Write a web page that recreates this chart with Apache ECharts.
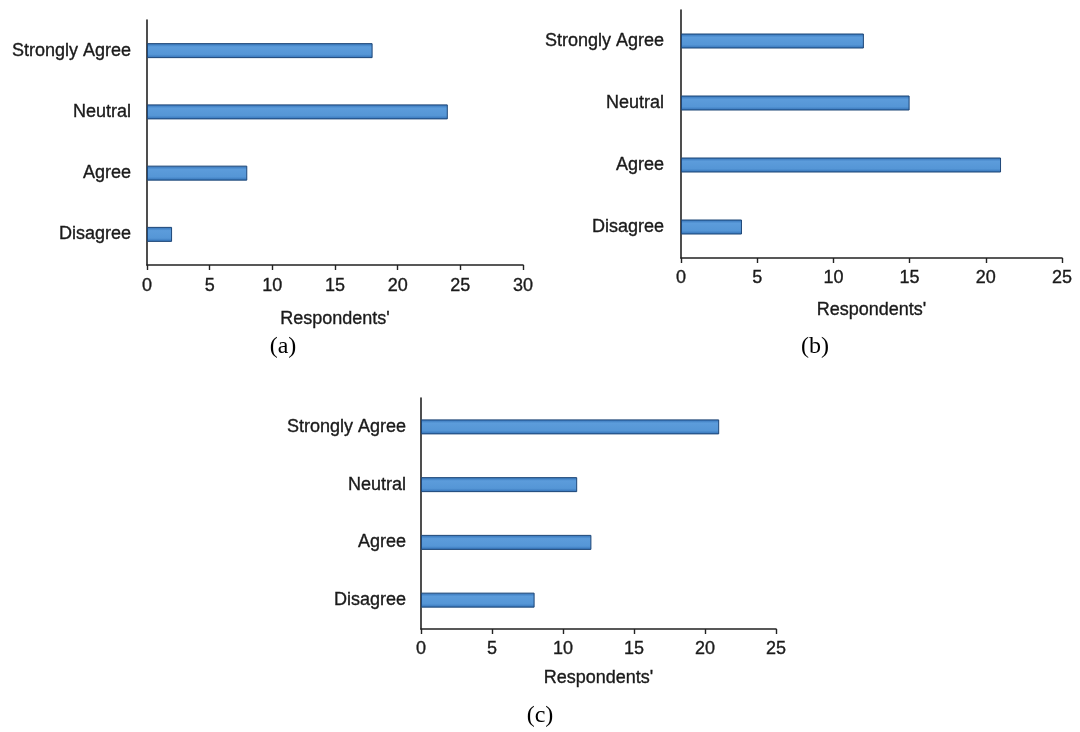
<!DOCTYPE html>
<html>
<head>
<meta charset="utf-8">
<script src="https://cdn.jsdelivr.net/npm/echarts@6/dist/echarts.min.js"></script>
<style>
  html, body { margin: 0; padding: 0; background: #fff; }
  #chart { width: 1080px; height: 732px; }
</style>
</head>
<body>
<div id="chart"></div>
<script>
// Response categories, bottom to top on each y axis
const categories = ['Disagree', 'Agree', 'Neutral', 'Strongly Agree'];

// Respondent counts per category (same order as categories)
const valuesA = [2, 8, 24, 18];
const valuesB = [4, 21, 15, 12];
const valuesC = [8, 12, 11, 21];

// Value-axis ranges and tick step
const maxA = 30, maxB = 25, maxC = 25;
const tickStep = 5;

const axisName = "Respondents'";
const captions = ['(a)', '(b)', '(c)'];

const sans = '"Liberation Sans", Arial, sans-serif';
const serif = '"Liberation Serif", "Times New Roman", serif';
const ink = '#1a1a1a';

// slightly heavier glyphs, like the printed figure
const heavy = { textBorderColor: ink, textBorderWidth: 0.35 };

const barFill = new echarts.graphic.LinearGradient(0, 0, 0, 1, [
  { offset: 0, color: '#2f6db3' },
  { offset: 0.25, color: '#5c9cdb' },
  { offset: 0.75, color: '#5596d6' },
  { offset: 1, color: '#2f6db3' }
]);

function xAxis(gridIndex, max, labelMargin, nameGap) {
  return {
    type: 'value', gridIndex, min: 0, max, interval: tickStep,
    name: axisName, nameLocation: 'middle', nameGap,
    nameTextStyle: Object.assign({ fontFamily: sans, fontSize: 18, color: ink }, heavy),
    axisLine: { show: true, lineStyle: { color: '#222', width: 1.6 } },
    axisTick: { show: true, length: 5, lineStyle: { color: '#222', width: 1.4 } },
    axisLabel: Object.assign({ fontFamily: sans, fontSize: 18, color: ink, margin: labelMargin }, heavy),
    splitLine: { show: false }
  };
}

function yAxis(gridIndex, labelMargin) {
  return {
    type: 'category', gridIndex, data: categories,
    axisLine: { show: true, lineStyle: { color: '#222', width: 1.6 } },
    axisTick: { show: false },
    axisLabel: Object.assign({ fontFamily: sans, fontSize: 18, color: ink, margin: labelMargin }, heavy)
  };
}

function barSeries(index, values) {
  return {
    type: 'bar', xAxisIndex: index, yAxisIndex: index, data: values,
    barWidth: 15,
    itemStyle: { color: barFill, borderColor: '#1d4677', borderWidth: 1 },
    silent: true
  };
}

function caption(text, x, y) {
  return {
    text, left: x, top: y, textAlign: 'center', padding: 0,
    textStyle: { fontFamily: serif, fontSize: 24, fontWeight: 'normal', color: '#000' }
  };
}

const chart = echarts.init(document.getElementById('chart'), null, { renderer: 'canvas' });
chart.setOption({
  animation: false,
  backgroundColor: '#fff',
  title: [
    caption(captions[0], 283, 335),
    caption(captions[1], 815, 335),
    caption(captions[2], 540, 704)
  ],
  grid: [
    { left: 147, top: 20, width: 376, height: 245 },
    { left: 681, top: 10, width: 381, height: 248 },
    { left: 421, top: 398, width: 355, height: 231 }
  ],
  xAxis: [
    xAxis(0, maxA, 12, 45),
    xAxis(1, maxB, 11, 43),
    xAxis(2, maxC, 11, 40)
  ],
  yAxis: [
    yAxis(0, 16),
    yAxis(1, 17),
    yAxis(2, 15)
  ],
  series: [
    barSeries(0, valuesA),
    barSeries(1, valuesB),
    barSeries(2, valuesC)
  ]
});
</script>
</body>
</html>
